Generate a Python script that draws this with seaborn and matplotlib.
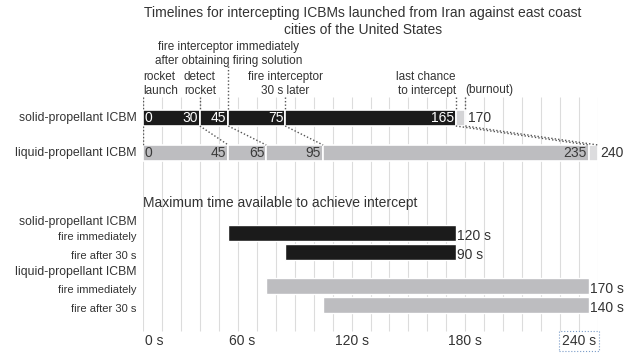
import numpy as np
import seaborn as sns
import matplotlib.pyplot as plt

# --- data -------------------------------------------------------------
row_names = ['solid-propellant ICBM', 'liquid-propellant ICBM']
solid_events = [0, 30, 45, 75, 165, 170]    # launch, detect, fire, fire+30, last chance, burnout
liquid_events = [0, 45, 65, 95, 235, 240]

event_notes = ['rocket\nlaunch', 'detect\nrocket',
               'fire interceptor immediately\nafter obtaining firing solution',
               'fire interceptor\n30 s later', 'last chance\nto intercept', '(burnout)']

window_labels = ['fire immediately', 'fire after 30 s', 'fire immediately', 'fire after 30 s']
window_start = [45, 75, 65, 95]
window_end = [165, 165, 235, 235]
window_len = [120, 90, 170, 140]

tick_values = [0, 60, 120, 180, 240]
tick_labels = ['0 s', '60 s', '120 s', '180 s', '240 s']

# --- style ------------------------------------------------------------
sns.set_theme(style='white')
plt.rcParams['font.family'] = ['Liberation Sans', 'DejaVu Sans']

black = '#1b1b1b'
grey = '#bdbdc0'
burn_black = '#d4d4d6'
burn_grey = '#dcdcde'
txt = '#333333'

fig = plt.figure(figsize=(6.24, 3.53), dpi=100)
ax = fig.add_axes([143 / 624, 0, 455 / 624, 1])
ax.set_xlim(0, 240)
ax.set_ylim(353, 0)   # y measured downwards, like the page
ax.axis('off')

# grid every 10 s
ax.vlines(np.arange(0, 241, 10), 97, 331, color='#dcdcdc', lw=0.8, zorder=0)

# --- top: timelines ---------------------------------------------------
fig.text(363 / 624, 1 - 13 / 353, 'Timelines for intercepting ICBMs launched from Iran against east coast',
         ha='center', va='center', fontsize=10, color=txt)
fig.text(363 / 624, 1 - 30 / 353, 'cities of the United States',
         ha='center', va='center', fontsize=10, color=txt)

row_y = [118, 153]
bar_h = 16
for y, name, ev, col, burn, tcol in [(row_y[0], row_names[0], solid_events, black, burn_black, 'white'),
                                    (row_y[1], row_names[1], liquid_events, grey, burn_grey, '#3a3a3a')]:
    ax.text(-3.5, y, name, ha='right', va='center', fontsize=8.8, color=txt)
    starts = ev[:4]
    ends = ev[1:5]
    ax.barh([y] * 4, np.subtract(ends, starts), left=starts, height=bar_h,
            color=col, edgecolor='white', lw=1.2, zorder=2)
    ax.barh(y, ev[5] - ev[4], left=ev[4], height=bar_h, color=burn,
            edgecolor='white', lw=1.2, zorder=2)
    ax.text(ev[0] + 1, y, str(ev[0]), ha='left', va='center', fontsize=10, color=tcol, zorder=3)
    for e in ev[1:5]:
        ax.text(e - 1, y, str(e), ha='right', va='center', fontsize=10, color=tcol, zorder=3)
    ax.text(ev[5] + 1.2, y, str(ev[5]), ha='left', va='center', fontsize=10, color=txt, zorder=3)

# event notes above the solid row
note_ha = ['left', 'center', 'center', 'center', 'right', 'left']
note_y = [84, 84, 54, 84, 84, 90]
for x, note, ha, ny in zip(solid_events, event_notes, note_ha, note_y):
    ax.text(x, ny, note, ha=ha, va='center', fontsize=8.5, color=txt, linespacing=1.15)

dot = dict(color='#555555', lw=1.0, ls=(0, (1, 1.5)), zorder=3)
top_of_dots = [97, 97, 66, 97, 97, 97]
for x, t in zip(solid_events, top_of_dots):
    ax.plot([x, x], [t, row_y[0] - bar_h / 2], **dot)
ax.plot([0, 0], [row_y[0] + bar_h / 2, row_y[1] - bar_h / 2], **dot)
# connectors from solid to liquid events
for a, b in zip(solid_events[1:], liquid_events[1:]):
    ax.plot([a, b], [row_y[0] + bar_h / 2, row_y[1] - bar_h / 2], **dot)

# --- bottom: intercept windows ----------------------------------------
ax.text(0, 203, 'Maximum time available to achieve intercept', ha='left', va='center',
        fontsize=10, color=txt)
ax.text(-3.5, 222, row_names[0], ha='right', va='center', fontsize=8.8, color=txt)
ax.text(-3.5, 272, row_names[1], ha='right', va='center', fontsize=8.8, color=txt)

win_y = [233, 252, 286, 305]
win_col = [black, black, grey, grey]
ax.barh(win_y, np.subtract(window_end, window_start), left=window_start, height=16,
        color=win_col, zorder=2)
for y, lab, e, d in zip(win_y, window_labels, window_end, window_len):
    ax.text(-3.5, y + 4, lab, ha='right', va='center', fontsize=8, color=txt)
    ax.text(e + 0.8, y + 3, f'{d} s', ha='left', va='center', fontsize=10, color=txt)

for v, lab in zip(tick_values, tick_labels):
    ha = 'left' if v == 0 else 'right'
    t = ax.text(v + (1 if v == 0 else -1), 341, lab, ha=ha, va='center', fontsize=10, color=txt)
t.set_bbox(dict(facecolor='none', edgecolor='#7a9cc8', ls=':', lw=0.8, pad=2))

fig.savefig('out.png', dpi=100)
